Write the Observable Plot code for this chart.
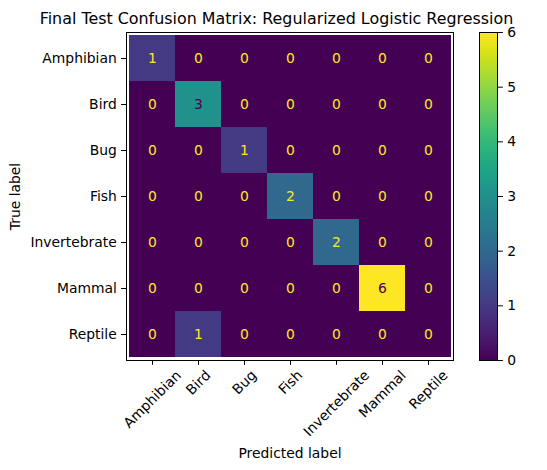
<!DOCTYPE html>
<html>
<head>
<meta charset="utf-8">
<script src="https://cdn.jsdelivr.net/npm/d3@7"></script>
<script src="https://cdn.jsdelivr.net/npm/@observablehq/plot@0.6"></script>
<style>
  html, body { margin: 0; padding: 0; background: #fff; }
  #wrap { position: relative; width: 547px; height: 470px; background: #fff; color: #000; }
  #wrap svg { position: absolute; left: 0; top: 0; overflow: visible; }
</style>
</head>
<body>
<div id="wrap"></div>
<script>
const classes = ["Amphibian", "Bird", "Bug", "Fish", "Invertebrate", "Mammal", "Reptile"];
const counts = [
  [1, 0, 0, 0, 0, 0, 0],
  [0, 3, 0, 0, 0, 0, 0],
  [0, 0, 1, 0, 0, 0, 0],
  [0, 0, 0, 2, 0, 0, 0],
  [0, 0, 0, 0, 2, 0, 0],
  [0, 0, 0, 0, 0, 6, 0],
  [0, 1, 0, 0, 0, 0, 0]
];
const colorTicks = [0, 1, 2, 3, 4, 5, 6];
const titleText = "Final Test Confusion Matrix: Regularized Logistic Regression";
const xLabel = "Predicted label";
const yLabel = "True label";

const FONT = "DejaVu Sans";
const FS = 13.89;
const W = 547, H = 470;
const mTop = 32, mBottom = 110, mLeft = 126, mRight = 94;

const cells = [];
counts.forEach((row, i) => row.forEach((v, j) => cells.push({t: classes[i], p: classes[j], v})));
const vmax = d3.max(cells, d => d.v), vmin = d3.min(cells, d => d.v);
const thresh = (vmax + vmin) / 2;

// measure label widths for matplotlib-like rotated tick labels
const ctx = document.createElement("canvas").getContext("2d");
ctx.font = `${FS}px "${FONT}"`;
const textH = FS * 1.17;
const tickLen = 4.86, tickPad = 4.86;

const xLabelMarks = classes.map(c => {
  const L = ctx.measureText(c).width;
  return Plot.text([c], {
    x: d => d, frameAnchor: "bottom", rotate: -45,
    textAnchor: "middle", lineAnchor: "middle",
    dy: tickLen + tickPad + 0.354 * (L + textH) - 3,
    fontSize: FS, fill: "black"
  });
});

const colorOpts = {type: "linear", scheme: "viridis", domain: [0, 6]};

const main = Plot.plot({
  width: W, height: H,
  marginTop: mTop, marginBottom: mBottom, marginLeft: mLeft, marginRight: mRight,
  style: {fontFamily: FONT, fontSize: FS + "px", background: "transparent", color: "black"},
  x: {type: "band", domain: classes, padding: 0, label: null},
  y: {type: "band", domain: classes, padding: 0, label: null},
  color: colorOpts,
  marks: [
    Plot.cell(cells, {x: "p", y: "t", fill: "v", inset: 0}),
    Plot.text(cells, {x: "p", y: "t", text: d => String(d.v), fontSize: FS,
      fill: d => d.v < thresh ? "#fde725" : "#440154"}),
    Plot.frame({stroke: "black", strokeWidth: 1}),
    Plot.axisY({tickSize: tickLen, tickPadding: tickPad, fontSize: FS, label: null}),
    Plot.axisX({tickSize: tickLen, tickFormat: () => "", label: null}),
    ...xLabelMarks,
    Plot.text([xLabel], {frameAnchor: "bottom", dy: 93, lineAnchor: "middle", fontSize: FS, fill: "black"}),
    Plot.text([yLabel], {frameAnchor: "left", dx: -111, rotate: -90, lineAnchor: "middle", textAnchor: "middle", fontSize: FS, fill: "black"}),
    Plot.text([titleText], {frameAnchor: "top", dx: -13.5, dy: -13.8, lineAnchor: "middle", fontSize: 15.9, fill: "black"})
  ]
});

const cbar = Plot.plot({
  width: W, height: H,
  marginTop: mTop, marginBottom: mBottom, marginLeft: 479, marginRight: W - 497,
  style: {fontFamily: FONT, fontSize: FS + "px", background: "transparent", color: "black"},
  x: {domain: [0, 1], axis: null},
  y: {domain: [0, 6], label: null},
  color: colorOpts,
  marks: [
    Plot.raster({fill: (x, y) => y, x1: 0, x2: 1, y1: 0, y2: 6, width: 1, height: 400, imageRendering: "auto"}),
    Plot.frame({stroke: "black", strokeWidth: 1}),
    Plot.axisY(colorTicks, {anchor: "right", tickSize: tickLen, tickPadding: tickPad, tickFormat: "d", fontSize: FS, label: null})
  ]
});

const wrap = document.getElementById("wrap");
wrap.appendChild(main);
wrap.appendChild(cbar);
</script>
</body>
</html>
